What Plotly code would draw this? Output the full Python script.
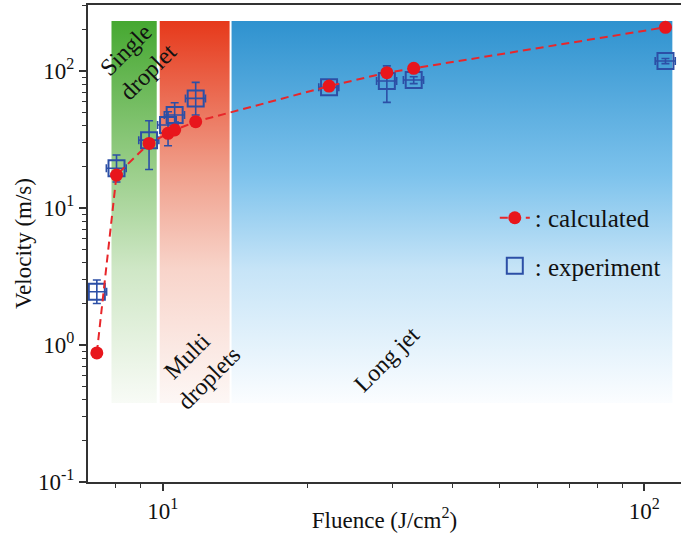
import plotly.graph_objects as go

# ---------------- data ----------------
fluence = [7.30, 8.02, 9.37, 10.26, 10.59, 11.71, 22.15, 29.2, 33.2, 110.6]
fluence_err = [0.35, 0.38, 0.45, 0.50, 0.51, 0.56, 1.06, 1.40, 1.60, 5.3]
velocity_calc = [0.875, 17.4, 29.6, 35.1, 37.1, 42.7, 77.6, 97.2, 104.6, 208.6]
velocity_exp = [2.45, 19.5, 31.3, 40.4, 47.8, 63.1, 76.0, 84.5, 85.9, 118.3]
velocity_err_plus = [0.53, 4.9, 12.1, 10.0, 10.9, 19.5, 4.0, 24.5, 5.0, 5.0]
velocity_err_minus = [0.44, 4.0, 12.2, 11.9, 9.0, 15.4, 4.0, 25.5, 5.0, 5.0]

region_names = ["Single<br>droplet", "Multi<br>droplets", "Long jet"]
region_x0 = [7.83, 9.86, 13.9]
region_x1 = [9.72, 13.77, 114.3]
region_y0 = 0.377
region_y1 = 231.7

x_tick_vals = [10, 100]
x_tick_text = ["10<sup>1</sup>", "10<sup>2</sup>"]
y_tick_vals = [0.1, 1, 10, 100]
y_tick_text = ["10<sup>-1</sup>", "10<sup>0</sup>", "10<sup>1</sup>", "10<sup>2</sup>"]

FONT = "Liberation Serif, Times New Roman, serif"
BLUE = "#2c4fa6"
RED = "#e8161c"

region_scales = [
    [[0, "#f8fbf6"], [0.35, "#cfe7c6"], [0.6, "#9ccf8c"], [1, "#46a831"]],
    [[0, "#fdf7f5"], [0.35, "#f8d4ca"], [0.6, "#f0a08c"], [1, "#e6391b"]],
    [[0, "#fbfdff"], [0.35, "#c6e4f7"], [0.6, "#7cc2ec"], [1, "#2f92cf"]],
]

fig = go.Figure()

for x0, x1, cs in zip(region_x0, region_x1, region_scales):
    fig.add_trace(go.Scatter(
        x=[x0, x1, x1, x0, x0],
        y=[region_y0, region_y0, region_y1, region_y1, region_y0],
        mode="lines", line=dict(width=0), fill="toself",
        fillgradient=dict(type="vertical", colorscale=cs),
        hoverinfo="skip", showlegend=False,
    ))

fig.add_trace(go.Scatter(
    x=fluence, y=velocity_exp, mode="markers", name=": experiment",
    marker=dict(symbol="square-open", size=16, color=BLUE, line=dict(width=2, color=BLUE)),
    error_x=dict(type="data", array=fluence_err, color=BLUE, thickness=1.6, width=4),
    error_y=dict(type="data", array=velocity_err_plus, arrayminus=velocity_err_minus,
                 color=BLUE, thickness=1.6, width=4),
    legend="legend2",
))

fig.add_trace(go.Scatter(
    x=fluence, y=velocity_calc, mode="lines+markers", name=": calculated",
    line=dict(color="#e8262a", width=2, dash="8px,5px"),
    marker=dict(symbol="circle", size=13, color=RED),
    legend="legend",
))

ann_pos = [(0.083, 0.883), (0.184, 0.241), (0.504, 0.258)]
for name, (ax, ay) in zip(region_names, ann_pos):
    fig.add_annotation(x=ax, y=ay, xref="paper", yref="paper", text=name,
                       showarrow=False, textangle=-45,
                       font=dict(family=FONT, size=24, color="#111"),
                       xanchor="center", yanchor="middle")

fig.update_layout(
    width=681, height=533,
    margin=dict(l=88, r=0, t=5, b=51),
    paper_bgcolor="white", plot_bgcolor="white",
    font=dict(family=FONT, size=20, color="#111"),
    legend=dict(x=0.686, y=0.5535, xanchor="left", yanchor="middle",
                bgcolor="rgba(0,0,0,0)", font=dict(family=FONT, size=25, color="#111")),
    legend2=dict(x=0.686, y=0.4528, xanchor="left", yanchor="middle",
                 bgcolor="rgba(0,0,0,0)", font=dict(family=FONT, size=25, color="#111")),
    xaxis=dict(
        type="log", range=[0.845, 2.076],
        showline=True, linecolor="#333", linewidth=2, mirror=True,
        showgrid=False, zeroline=False,
        tickmode="array", tickvals=x_tick_vals, ticktext=x_tick_text,
        ticks="outside", ticklen=7, tickwidth=1.5, tickcolor="#333",
        tickfont=dict(family=FONT, size=23, color="#111"),
        minor=dict(tickmode="array",
                   tickvals=[8, 9] + [20, 30, 40, 50, 60, 70, 80, 90],
                   ticks="outside", ticklen=4, tickwidth=1.2, tickcolor="#333", showgrid=False),
        title=dict(text="Fluence (J/cm<sup>2</sup>)", font=dict(family=FONT, size=23, color="#111"),
                   standoff=0),
        automargin=False,
    ),
    yaxis=dict(
        type="log", range=[-1, 2.482],
        showline=True, linecolor="#333", linewidth=2, mirror=False,
        showgrid=False, zeroline=False,
        tickmode="array", tickvals=y_tick_vals, ticktext=y_tick_text,
        ticks="outside", ticklen=7, tickwidth=1.5, tickcolor="#333",
        tickfont=dict(family=FONT, size=23, color="#111"),
        minor=dict(tickmode="array",
                   tickvals=[0.2, 0.3, 0.4, 0.5, 0.6, 0.7, 0.8, 0.9,
                             2, 3, 4, 5, 6, 7, 8, 9,
                             20, 30, 40, 50, 60, 70, 80, 90, 200, 300],
                   ticks="outside", ticklen=4, tickwidth=1.2, tickcolor="#333", showgrid=False),
        title=dict(text="Velocity (m/s)", font=dict(family=FONT, size=23, color="#111"),
                   standoff=0),
        automargin=False,
    ),
)

fig.write_html("out.html", config={"displayModeBar": False},
               post_script="document.body.style.margin='0px';")
